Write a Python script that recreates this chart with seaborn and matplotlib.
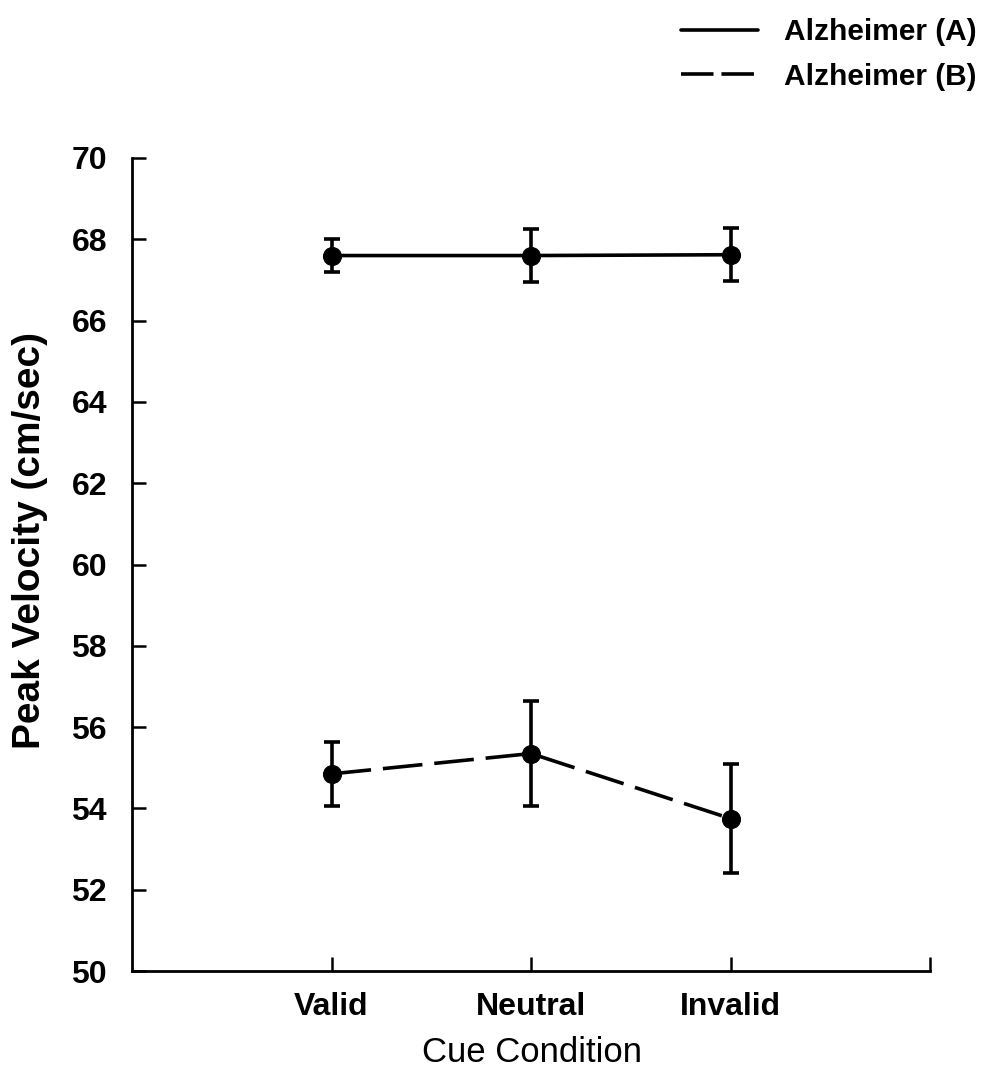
import matplotlib
matplotlib.use("Agg")
import matplotlib.pyplot as plt
from matplotlib.lines import Line2D
import seaborn as sns
import pandas as pd

conditions = ["Valid", "Neutral", "Invalid"]
positions = [1, 2, 3]
group_a_mean = [67.6, 67.6, 67.62]
group_a_err = [0.4, 0.65, 0.65]
group_b_mean = [54.85, 55.35, 53.75]
group_b_err = [0.78, 1.3, 1.35]
group_names = ["Alzheimer (A)", "Alzheimer (B)"]
y_ticks = [50, 52, 54, 56, 58, 60, 62, 64, 66, 68, 70]

sns.set_theme(style="ticks")
plt.rcParams["font.family"] = ["Liberation Sans", "DejaVu Sans"]
plt.rcParams.update({
    "text.color": "black",
    "axes.labelcolor": "black",
    "xtick.color": "black",
    "ytick.color": "black",
    "xtick.direction": "in",
    "ytick.direction": "in",
})

df = pd.DataFrame({
    "pos": positions * 2,
    "value": group_a_mean + group_b_mean,
    "group": [group_names[0]] * 3 + [group_names[1]] * 3,
})

fig = plt.figure(figsize=(9.91, 10.88), dpi=100)
ax = fig.add_axes([0.1332, 0.1075, 0.8053, 0.7473])

lw = 2.6
sns.lineplot(data=df, x="pos", y="value", style="group",
             dashes={group_names[0]: "", group_names[1]: (11, 3.3)},
             markers={group_names[0]: "o", group_names[1]: "o"},
             color="black", linewidth=lw, markersize=13,
             markeredgecolor="black", ax=ax, legend=False)

for means, errs in [(group_a_mean, group_a_err), (group_b_mean, group_b_err)]:
    ax.errorbar(positions, means, yerr=errs, fmt="none", ecolor="black",
                elinewidth=lw, capsize=5.5, capthick=lw)

ax.set_xlim(0, 4)
ax.set_ylim(50, 70)
ax.set_xticks([1, 2, 3, 4])
ax.set_xticklabels(conditions + [""])
ax.set_yticks(y_ticks)
ax.tick_params(axis="both", direction="in", length=10, width=1.8, labelsize=23,
               color="black", labelcolor="black")
ax.tick_params(axis="x", pad=15)
ax.tick_params(axis="y", pad=18)
for lab in ax.get_xticklabels() + ax.get_yticklabels():
    lab.set_fontweight("bold")
for side in ["left", "bottom"]:
    ax.spines[side].set_linewidth(2)
    ax.spines[side].set_color("black")
sns.despine(ax=ax)

ax.set_xlabel("Cue Condition", fontsize=25, fontweight="normal")
ax.xaxis.set_label_coords(0.5006, -0.08)
ax.set_ylabel("Peak Velocity (cm/sec)", fontsize=28, fontweight="bold")
ax.yaxis.set_label_coords(-0.105, 0.53)

handles = [Line2D([], [], color="black", linewidth=lw),
           Line2D([], [], color="black", linewidth=lw, dashes=(9, 2.2))]
fig.legend(handles, group_names, loc="upper right",
           bbox_to_anchor=(0.985, 0.983), frameon=False,
           handlelength=2.58, handletextpad=0.84, labelspacing=0.55,
           borderpad=0, borderaxespad=0,
           prop={"weight": "bold", "size": 21.5})

fig.savefig("out.png", dpi=100)
